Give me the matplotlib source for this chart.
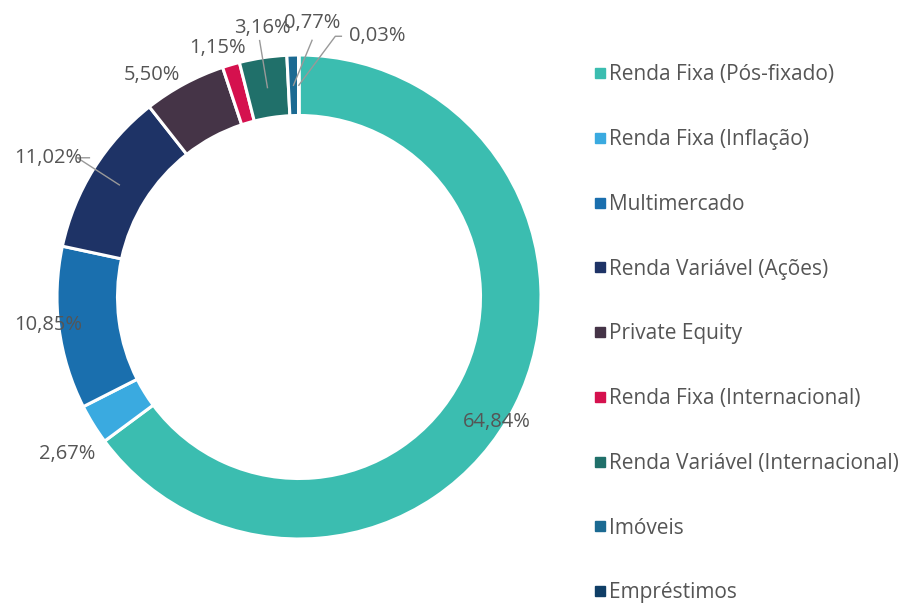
import numpy as np
import matplotlib
matplotlib.use("Agg")
import matplotlib.pyplot as plt
from matplotlib.lines import Line2D

categories = ["Renda Fixa (Pós-fixado)", "Renda Fixa (Inflação)", "Multimercado",
              "Renda Variável (Ações)", "Private Equity", "Renda Fixa (Internacional)",
              "Renda Variável (Internacional)", "Imóveis", "Empréstimos"]
values = [64.84, 2.67, 10.85, 11.02, 5.50, 1.15, 3.16, 0.77, 0.03]
value_labels = ["64,84%", "2,67%", "10,85%", "11,02%", "5,50%", "1,15%", "3,16%", "0,77%", "0,03%"]
colors = ["#3bbdb0", "#3aaae0", "#1a6fae", "#1e3366", "#453447", "#d5114e",
          "#20706a", "#1b6a92", "#0f3e66"]

W, H = 904, 603
fig = plt.figure(figsize=(W / 100, H / 100), dpi=100)
ax = fig.add_axes([0, 0, 1, 1])
cx, cy, R = 299, 297, 242  # pixels (cy from top)

font = "Open Sans"
tcol = "#555555"

wedges, _ = ax.pie(values, colors=colors, startangle=90, counterclock=False,
                   radius=1.0, wedgeprops=dict(width=0.25, edgecolor="white", linewidth=2.2))
ax.set_aspect("auto")
ax.set_xlim(-cx / R, (W - cx) / R)
ax.set_ylim(-(H - cy) / R, cy / R)
ax.axis("off")

# label layout: (radius factor, angle offset deg, leader?)
layout = [
    (0.96, -5.0, None),
    (1.15, 2.0, None),
    (1.04, -1.5, None),
    (1.19, 2.5, "line"),
    (1.11, 5.0, None),
    (1.09, 1.6, None),
    (1.13, -0.8, "line"),
    (1.142, -4.2, "line"),
    (1.135, -16.7, "elbow"),
]

cum = np.cumsum([0] + values[:-1])
total = sum(values)
dy = -0.01
for i, (v, lab) in enumerate(zip(values, value_labels)):
    mid = 90 - 360 * (cum[i] + v / 2) / total
    rf, doff, leader = layout[i]
    a = np.deg2rad(mid + doff)
    tx, ty = rf * np.cos(a), rf * np.sin(a) + dy
    ax.text(tx, ty, lab, ha="center", va="center", fontsize=14.5, color=tcol, family=font)
    if leader:
        am = np.deg2rad(mid)
        sx, sy = 0.875 * np.cos(am), 0.875 * np.sin(am)
        if i == 3:
            ex, ey = tx + 0.17, ty
            ax.plot([sx, ex - 0.05, ex], [sy, ey, ey], color="#999999", lw=1)
        elif i == 6:
            ax.plot([sx, tx - 0.01], [sy, ty - 0.05], color="#999999", lw=1)
        elif i == 7:
            ax.plot([sx, tx], [sy, ty - 0.07], color="#999999", lw=1)
        else:
            ax.plot([sx, tx - 0.175, tx - 0.15], [sy, ty, ty], color="#999999", lw=1)

handles = [Line2D([], [], marker="s", linestyle="none", markersize=7,
                  markerfacecolor=c, markeredgecolor=c) for c in colors]
leg = ax.legend(handles, categories, loc="upper left", bbox_to_anchor=(584 / W, 1 - 54 / H),
                bbox_transform=fig.transFigure, frameon=False, handlelength=0.5,
                handletextpad=0.2, labelspacing=2.1, borderpad=0,
                prop=dict(family=font, size=15))
for t in leg.get_texts():
    t.set_color(tcol)

fig.savefig("out.png", dpi=100)
